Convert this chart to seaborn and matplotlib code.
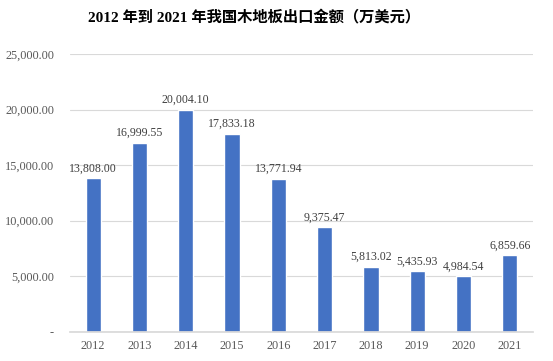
import matplotlib.pyplot as plt
import seaborn as sns
import pandas as pd
from matplotlib.ticker import FuncFormatter

years = ['2012', '2013', '2014', '2015', '2016', '2017', '2018', '2019', '2020', '2021']
export_value = [13808.00, 16999.55, 20004.10, 17833.18, 13771.94,
                9375.47, 5813.02, 5435.93, 4984.54, 6859.66]
y_ticks = [0, 5000, 10000, 15000, 20000, 25000]

df = pd.DataFrame({'year': years, 'value': export_value})

sns.set_theme(style="white")
plt.rcParams['font.family'] = ['Liberation Serif', 'Noto Sans CJK SC']

fig = plt.figure(figsize=(5.53, 3.61), dpi=100)
ax = fig.add_axes([0.1266, 0.0817, 0.8372, 0.7683])

sns.barplot(data=df, x='year', y='value', color='#4472C4', saturation=1,
            width=0.33, ax=ax)

ax.set_ylim(0, 25000)
ax.set_yticks(y_ticks)
ax.yaxis.set_major_formatter(FuncFormatter(lambda v, p: '-' if v == 0 else f'{v:,.2f}'))
ax.grid(axis='y', color='#D9D9D9', linewidth=0.8)
ax.set_axisbelow(True)
for s in ['top', 'right', 'left']:
    ax.spines[s].set_visible(False)
ax.spines['bottom'].set_color('#D9D9D9')
ax.tick_params(axis='both', length=0, labelsize=8.8, colors='#595959', pad=6)
ax.tick_params(axis='y', pad=11.5)
ax.set_xlabel('')
ax.set_ylabel('')

for i, v in enumerate(export_value):
    ax.text(i, v + 350, f'{v:,.2f}', ha='center', va='bottom', fontsize=8.6, color='#404040')

fig.text(0.46, 0.953, '2012 年到 2021 年我国木地板出口金额（万美元）', ha='center', va='center',
         fontsize=11, fontweight='bold', color='black')

fig.savefig('out.png', dpi=100)
